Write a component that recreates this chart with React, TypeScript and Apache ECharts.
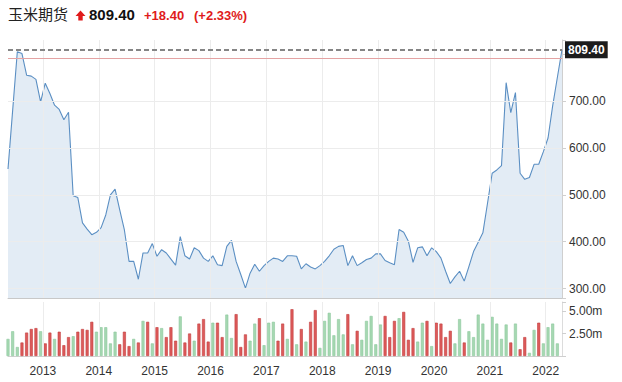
import React, { useEffect, useRef } from 'react';
import * as echarts from 'echarts';

const TITLE = '玉米期货';
const LAST = 809.4;
const PREV_CLOSE = 791.0;
const CHANGE = '+18.40';
const CHANGE_PCT = '(+2.33%)';

// months counted from Jan 2012; first point is mid-May 2012
const FIRST_MONTH = 4.5;
const yearTicks = [2013, 2014, 2015, 2016, 2017, 2018, 2019, 2020, 2021, 2022];
const priceTicks = [300, 400, 500, 600, 700];
const volumeTicks = [2.5, 5];

const price = [
  555, 680, 805, 801, 755, 753, 746, 698, 738, 716,
  691, 682, 660, 676, 498, 494, 440, 427, 415, 420,
  430, 457, 500, 512, 468, 425, 358, 358, 320, 376,
  376, 396, 369, 383, 376, 363, 350, 411, 370, 363,
  387, 381, 365, 358, 370, 351, 349, 390, 403, 358,
  330, 301, 333, 352, 337, 349, 358, 365, 363, 358,
  370, 370, 369, 342, 353, 346, 342, 349, 358, 370,
  384, 390, 392, 349, 370, 349, 355, 362, 365, 374,
  374, 360, 355, 351, 426, 420, 401, 356, 387, 389,
  370, 387, 379, 365, 337, 311, 325, 337, 316, 347,
  379, 399, 419, 482, 546, 553, 562, 739, 675, 718,
  546, 533, 537, 565, 565, 592, 621, 690, 750, 809.4,
];

// volume in millions
const volume = [
  1.9, 2.75, 1.0, 1.5, 2.6, 3.0, 3.1, 2.75, 1.4, 2.6,
  1.9, 2.7, 1.2, 2.1, 2.2, 2.7, 3.0, 2.9, 3.8, 2.7,
  3.2, 3.2, 1.4, 2.7, 1.3, 2.7, 1.1, 1.9, 1.5, 3.9,
  3.8, 1.4, 3.2, 3.1, 2.1, 3.2, 1.7, 4.4, 1.5, 2.5,
  1.7, 3.6, 4.1, 1.6, 3.7, 3.7, 2.1, 4.6, 2.0, 4.65,
  1.0, 2.4, 1.7, 3.6, 4.2, 1.2, 3.7, 3.8, 1.7, 3.6,
  1.9, 5.2, 1.3, 3.0, 1.6, 3.8, 5.1, 0.9, 3.9, 4.8,
  2.3, 4.1, 2.4, 4.65, 1.3, 2.8, 1.8, 3.9, 4.45, 1.3,
  3.5, 4.45, 2.1, 3.9, 4.2, 4.9, 1.8, 3.1, 1.6, 3.7,
  3.9, 1.1, 3.7, 3.6, 2.1, 2.8, 1.4, 4.1, 1.5, 2.75,
  2.1, 4.6, 3.6, 1.8, 4.35, 3.6, 1.9, 3.5, 1.5, 3.6,
  0.75, 2.1, 0.35, 2.9, 3.7, 1.4, 3.2, 3.6, 1.4,
];

// r = rising month (red), g = falling month (green)
const volumeDir = [
  'g', 'g', 'g', 'r', 'r', 'r', 'r', 'g', 'r', 'r',
  'g', 'r', 'r', 'r', 'g', 'r', 'r', 'r', 'r', 'g',
  'g', 'g', 'g', 'g', 'r', 'r', 'r', 'g', 'r', 'g',
  'r', 'g', 'r', 'g', 'r', 'r', 'r', 'g', 'r', 'r',
  'g', 'r', 'r', 'r', 'g', 'r', 'r', 'g', 'g', 'r',
  'r', 'r', 'g', 'g', 'r', 'g', 'g', 'g', 'r', 'r',
  'g', 'r', 'g', 'r', 'g', 'r', 'r', 'g', 'g', 'g',
  'g', 'g', 'g', 'r', 'g', 'r', 'g', 'g', 'g', 'g',
  'g', 'r', 'r', 'r', 'g', 'r', 'r', 'r', 'g', 'g',
  'r', 'g', 'r', 'r', 'r', 'r', 'g', 'g', 'r', 'g',
  'g', 'g', 'g', 'g', 'g', 'g', 'g', 'g', 'r', 'g',
  'r', 'r', 'g', 'g', 'r', 'g', 'g', 'g', 'g',
];

const FONT = 'Liberation Sans, Arial, sans-serif';
const GRID_LINE = '#ececec';
const RED_FILL = '#dd5b5b';
const RED_BORDER = '#c23d3d';
const GREEN_FILL = '#a6d8b2';
const GREEN_BORDER = '#8cc89c';

export default function App() {
  const ref = useRef<HTMLDivElement>(null);

  useEffect(() => {
    if (!ref.current) return;
    const chart = echarts.init(ref.current, undefined, { renderer: 'svg' });
    const xMin = FIRST_MONTH;
    const xMax = FIRST_MONTH + price.length - 1;
    const yearMonth = (y: number) => (y - 2012) * 12;

    const vLines = yearTicks.map((y) => ({ xAxis: yearMonth(y) }));
    const hLines = priceTicks.map((v) => ({ yAxis: v }));

    const xAxisBase = {
      type: 'value' as const,
      min: xMin,
      max: xMax,
      splitNumber: 10,
      minInterval: 12,
      maxInterval: 12,
      splitLine: { show: false },
      axisTick: { show: false },
    };

    chart.setOption({
      animation: false,
      graphic: [
        {
          type: 'text',
          left: 8,
          top: 6,
          style: { text: TITLE, font: '15px "Noto Sans CJK SC", sans-serif', fill: '#222' },
        },
        {
          type: 'polygon',
          shape: {
            points: [
              [75.5, 16], [80.5, 10.5], [85.5, 16], [82.7, 16], [82.7, 20.5], [78.3, 20.5], [78.3, 16],
            ],
          },
          style: { fill: '#e01b1b' },
        },
        {
          type: 'text',
          left: 89,
          top: 7,
          style: { text: LAST.toFixed(2), font: 'bold 15px ' + FONT, fill: '#111' },
        },
        {
          type: 'text',
          left: 144,
          top: 9,
          style: { text: CHANGE, font: 'bold 13px ' + FONT, fill: '#e01b1b' },
        },
        {
          type: 'text',
          left: 194,
          top: 9,
          style: { text: CHANGE_PCT, font: 'bold 13px ' + FONT, fill: '#e01b1b' },
        },
      ],
      grid: [
        { left: 8, top: 40, width: 554, height: 258 },
        { left: 8, top: 302, width: 554, height: 54 },
      ],
      xAxis: [
        {
          ...xAxisBase,
          gridIndex: 0,
          axisLine: { show: true, lineStyle: { color: '#c8c8c8' } },
          axisLabel: { show: false },
        },
        {
          ...xAxisBase,
          gridIndex: 1,
          axisLine: { show: true, lineStyle: { color: '#d0d0d0' } },
          axisLabel: {
            show: true,
            fontFamily: FONT,
            fontSize: 12,
            color: '#333',
            margin: 9,
            showMinLabel: false,
            showMaxLabel: false,
            formatter: (v: number) => (Math.abs(v % 12) < 1e-6 ? String(2012 + v / 12) : ''),
          },
        },
      ],
      yAxis: [
        {
          type: 'value',
          gridIndex: 0,
          position: 'right',
          min: 280,
          max: 830,
          splitNumber: 5,
          minInterval: 100,
          maxInterval: 100,
          splitLine: { show: false },
          axisLine: { show: true, lineStyle: { color: '#cfcfcf' } },
          axisTick: { show: true, length: 4, lineStyle: { color: '#cfcfcf' } },
          axisLabel: {
            fontFamily: FONT,
            fontSize: 12,
            color: '#333',
            margin: 7,
            formatter: (v: number) => (priceTicks.indexOf(v) >= 0 ? v.toFixed(2) : ''),
          },
        },
        {
          type: 'value',
          gridIndex: 1,
          position: 'right',
          min: 0,
          max: 6,
          splitNumber: 5,
          minInterval: 2.5,
          maxInterval: 2.5,
          splitLine: { show: false },
          axisLine: { show: true, lineStyle: { color: '#dcdcdc' } },
          axisTick: { show: true, length: 4, lineStyle: { color: '#cfcfcf' } },
          axisLabel: {
            fontFamily: FONT,
            fontSize: 12,
            color: '#333',
            margin: 7,
            formatter: (v: number) => (volumeTicks.indexOf(v) >= 0 ? v.toFixed(2) + 'm' : ''),
          },
        },
      ],
      series: [
        {
          type: 'line',
          xAxisIndex: 0,
          yAxisIndex: 0,
          data: price.map((v, i) => [FIRST_MONTH + i, v]),
          symbol: 'none',
          lineStyle: { color: '#5b8fc3', width: 1.1 },
          areaStyle: { color: '#e3ecf5', opacity: 1, origin: 'start' },
          z: 2,
          markLine: {
            silent: true,
            symbol: 'none',
            animation: false,
            label: { show: false },
            lineStyle: { color: GRID_LINE, width: 1, type: 'solid' },
            data: [
              ...vLines,
              ...hLines,
              {
                yAxis: PREV_CLOSE,
                lineStyle: { color: '#e4a3a3', width: 1, type: 'solid' },
              },
              {
                yAxis: LAST,
                lineStyle: { color: '#858585', width: 2, type: [5, 3] },
                label: {
                  show: true,
                  position: 'end',
                  distance: 3,
                  formatter: LAST.toFixed(2),
                  backgroundColor: '#1c1c1c',
                  color: '#fff',
                  fontFamily: FONT,
                  fontWeight: 'bold',
                  fontSize: 12,
                  padding: [3, 3, 2, 3],
                },
              },
            ],
          },
        },
        {
          type: 'bar',
          xAxisIndex: 1,
          yAxisIndex: 1,
          barWidth: 3,
          clip: false,
          data: volume.map((v, i) => ({
            value: [FIRST_MONTH + i, v],
            itemStyle:
              volumeDir[i] === 'r'
                ? { color: RED_FILL, borderColor: RED_BORDER, borderWidth: 0.6 }
                : { color: GREEN_FILL, borderColor: GREEN_BORDER, borderWidth: 0.6 },
          })),
          markLine: {
            silent: true,
            symbol: 'none',
            animation: false,
            label: { show: false },
            lineStyle: { color: GRID_LINE, width: 1, type: 'solid' },
            data: vLines,
          },
        },
      ],
    });
    return () => chart.dispose();
  }, []);

  return (
    <div
      ref={ref}
      style={{ position: 'absolute', left: 0, top: 0, width: 622, height: 382, background: '#fff' }}
    />
  );
}
